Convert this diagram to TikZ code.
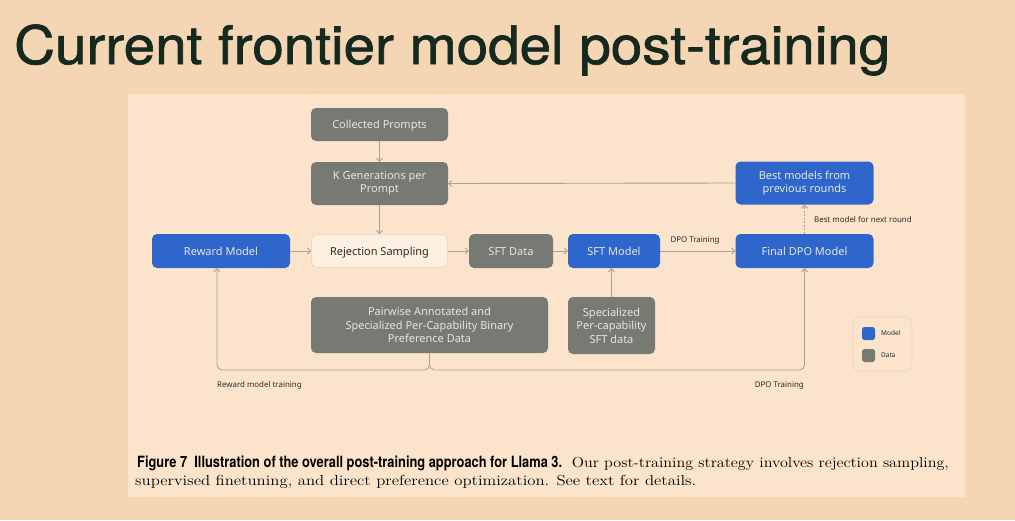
\documentclass[tikz,border=0pt]{standalone}
\usepackage{fontspec}
\usetikzlibrary{arrows.meta}
\newfontfamily\boxf{Noto Sans}
\newfontfamily\titlef{TeX Gyre Heros}
\newfontfamily\titlebig[FakeBold=1.2]{TeX Gyre Heros}
\definecolor{outerbg}{HTML}{F4D5B4}
\definecolor{panelbg}{HTML}{FBE4CB}
\definecolor{modelblue}{HTML}{2E66CC}
\definecolor{datagray}{HTML}{767A73}
\definecolor{boxtext}{HTML}{E6E6E2}
\definecolor{linecol}{HTML}{A8A493}
\definecolor{rsfill}{HTML}{FDF0E0}
\definecolor{rsborder}{HTML}{E9D9C3}
\definecolor{labeltext}{HTML}{2A2A2A}
\definecolor{titlecol}{HTML}{15291F}
\tikzset{
  boxbase/.style={rounded corners=5pt, align=center, inner sep=0pt, font=\boxf\fontsize{11}{13.5}\selectfont, text=boxtext},
  oneline/.style={text height=8pt, text depth=0pt},
  modelbox/.style={boxbase, fill=modelblue},
  databox/.style={boxbase, fill=datagray},
  rsbox/.style={boxbase, fill=rsfill, draw=rsborder, line width=0.8pt, text=labeltext},
  conn/.style={draw=linecol, line width=0.9pt, -{Straight Barb[length=3pt,width=6pt]}},
  lbl/.style={font=\boxf\bfseries\fontsize{7.9}{9}\selectfont, text=labeltext, inner sep=0pt},
}
\begin{document}
\begin{tikzpicture}[x=1pt,y=-1pt]
\useasboundingbox (0,0) rectangle (1015,520);
\fill[outerbg] (0,0) rectangle (1015,520);
\fill[panelbg] (128,94) rectangle (965,497);

% title
\node[anchor=base west, inner sep=0pt, text=titlecol] (title) at (14,64)
  {\resizebox{876pt}{\height}{\titlebig\fontsize{53}{53}\selectfont Current frontier model post-training}};

% nodes
\node[databox, oneline, minimum width=137pt, minimum height=33pt] (cp) at (379.5,124.5) {Collected Prompts};
\node[databox, minimum width=137pt, minimum height=43pt] (kg) at (379.5,183.5) {K Generations per\\Prompt};
\node[modelbox, oneline, minimum width=138pt, minimum height=34pt] (rm) at (221,251) {Reward Model};
\node[rsbox, oneline, minimum width=136pt, minimum height=33pt] (rs) at (379.5,251) {Rejection Sampling};
\node[databox, oneline, minimum width=84pt, minimum height=34pt] (sftd) at (511,251) {SFT Data};
\node[modelbox, oneline, minimum width=92pt, minimum height=34pt] (sftm) at (614,251) {SFT Model};
\node[modelbox, oneline, minimum width=138pt, minimum height=34pt] (dpo) at (804.5,251) {Final DPO Model};
\node[modelbox, minimum width=138pt, minimum height=43pt] (best) at (804.5,183) {Best models from\\previous rounds};
\node[databox, minimum width=237pt, minimum height=56pt] (pw) at (429.5,325) {Pairwise Annotated and\\Specialized Per-Capability Binary\\Preference Data};
\node[databox, minimum width=87pt, minimum height=57pt] (spec) at (611.5,325.5) {Specialized\\Per-capability\\SFT data};

% legend
\node[draw=rsborder, fill=panelbg, rounded corners=6pt, line width=0.8pt, minimum width=59pt, minimum height=54pt, inner sep=0pt] (legend) at (882.5,344) {};
\node[fill=modelblue, rounded corners=2.5pt, minimum size=13pt, inner sep=0pt] (lm) at (868.5,333.5) {};
\node[fill=datagray, rounded corners=2.5pt, minimum size=13pt, inner sep=0pt] (ld) at (868.5,355.5) {};
\node[anchor=west, inner sep=0pt, text=labeltext, font=\boxf\fontsize{6.5}{8}\selectfont] (lmt) at (881,333.5) {Model};
\node[anchor=west, inner sep=0pt, text=labeltext, font=\boxf\fontsize{6.5}{8}\selectfont] (ldt) at (881,355.5) {Data};

% connectors
\draw[conn] (cp.south) -- (kg.north);
\draw[conn] (kg.south) -- (rs.north);
\draw[conn] (best.west) -- (kg.east);
\draw[conn] (rm.east) -- (rs.west);
\draw[conn] (rs.east) -- (sftd.west);
\draw[conn] (sftd.east) -- (sftm.west);
\draw[conn] (sftm.east) -- (dpo.west);
\node[lbl, anchor=base] (dpol) at (695,242) {DPO Training};
\draw[conn, dash pattern=on 2pt off 1.5pt] (dpo.north) -- (best.south);
\node[lbl, anchor=west] (bml) at (814,220) {Best model for next round};
\draw[conn] (spec.north) -- (spec.north |- sftm.south);

\coordinate (j) at (429.5,370);
\draw[conn, rounded corners=5pt] (pw.south) |- ([xshift=-4pt]rm.south |- j) -- ([xshift=-4pt]rm.south);
\draw[conn, rounded corners=5pt] (pw.south) |- (dpo.south |- j) -- (dpo.south);
\node[lbl, anchor=base west] (rml) at (217,387) {Reward model training};
\node[lbl, anchor=base east] (dpol2) at (804,387) {DPO Training};

% caption
\node[anchor=base west, inner sep=0pt, text=black] (cap1) at (137,467)
  {\resizebox{425pt}{\height}{\titlef\bfseries\fontsize{15.5}{17}\selectfont Figure 7\ \ Illustration of the overall post-training approach for Llama 3.}};
\node[anchor=base east, inner sep=0pt, text=black] (cap2) at (949,467)
  {\resizebox{377pt}{\height}{\fontsize{14.5}{17}\selectfont Our post-training strategy involves rejection sampling,}};
\node[anchor=base west, inner sep=0pt, text=black] (cap3) at (135,485)
  {\resizebox{561pt}{\height}{\fontsize{14.5}{17}\selectfont supervised finetuning, and direct preference optimization. See text for details.}};
\end{tikzpicture}
\end{document}
